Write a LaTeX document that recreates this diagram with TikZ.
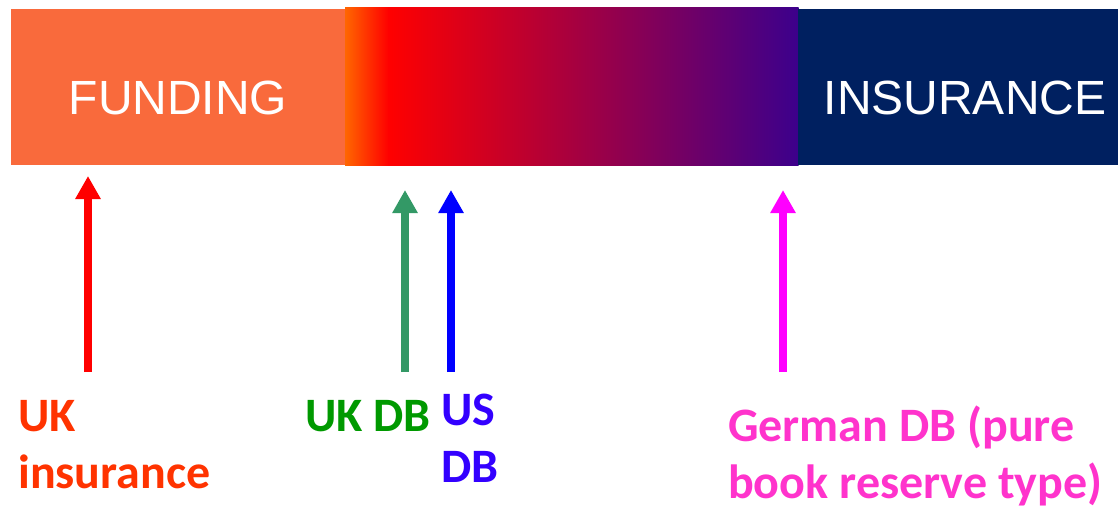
\documentclass[tikz,border=0pt]{standalone}
\usepackage{fontspec}
\setmainfont{Carlito}
\newfontfamily\barfont{Liberation Sans}
\usepackage{xcolor}
\usepackage{tikz}
\usetikzlibrary{arrows.meta}
\definecolor{fundcol}{RGB}{249,106,60}
\definecolor{inscol}{RGB}{0,32,96}
\definecolor{startcol}{RGB}{255,102,0}
\definecolor{midcol}{RGB}{170,0,115}
\definecolor{endcol}{RGB}{60,0,140}
\definecolor{ukinscol}{RGB}{255,51,0}
\definecolor{ukdbcol}{RGB}{0,153,0}
\definecolor{usdbcol}{RGB}{51,0,255}
\definecolor{gerdbcol}{RGB}{255,51,204}
\definecolor{arrgreen}{RGB}{51,153,102}
\definecolor{arrred}{RGB}{255,0,0}
\definecolor{arrblue}{RGB}{0,0,255}
\definecolor{arrmag}{RGB}{255,0,255}
\tikzstyle{bartext} = [text=white, inner sep=0pt, anchor=base, font=\barfont\fontsize{48}{58}\selectfont]
\tikzstyle{tnode} = [align=left, anchor=base west, inner sep=0pt, font=\bfseries\fontsize{48}{57}\selectfont]
\tikzstyle{pointer} = [line width=8pt, -{Triangle[width=24pt,length=23pt]}]

\begin{document}
\begin{tikzpicture}[x=1pt,y=-1pt]
  \useasboundingbox (0,0) rectangle (1118,508);
  % bar
  \fill [fundcol] (11,9) rectangle (345.5,165);
  \shade [left color=startcol, right color=arrred] (345,8) rectangle (388.5,165);
  \shade [left color=arrred, middle color=midcol, right color=endcol] (388,8) rectangle (798.5,165);
  \fill [inscol] (798,9) rectangle (1118,165);
  \node [bartext] (fund) at (178,114) {FUNDING};
  \node [bartext] (insur) at (965,114) {INSURANCE};

  % labels (base = last line)
  \node [tnode, text=ukinscol] (ukins) at (18,488) {UK\\insurance};
  \node [tnode, text=ukdbcol] (ukdb) at (305,431) {UK DB};
  \node [tnode, text=usdbcol] (usdb) at (441,482) {US\\DB};
  \node [tnode, text=gerdbcol] (gerdb) at (728,498) {German DB (pure\\book reserve type)};

  % arrows
  \coordinate (ukinsA) at (88,372);  \coordinate (ukinsB) at (88,176);
  \coordinate (ukdbA) at (405,372);  \coordinate (ukdbB) at (405,190);
  \coordinate (usdbA) at (451,372);  \coordinate (usdbB) at (451,190);
  \coordinate (gerdbA) at (783,372); \coordinate (gerdbB) at (783,190);
  \draw [pointer, arrred] (ukinsA) -- (ukinsB);
  \draw [pointer, arrgreen] (ukdbA) -- (ukdbB);
  \draw [pointer, arrblue] (usdbA) -- (usdbB);
  \draw [pointer, arrmag] (gerdbA) -- (gerdbB);
\end{tikzpicture}
\end{document}
